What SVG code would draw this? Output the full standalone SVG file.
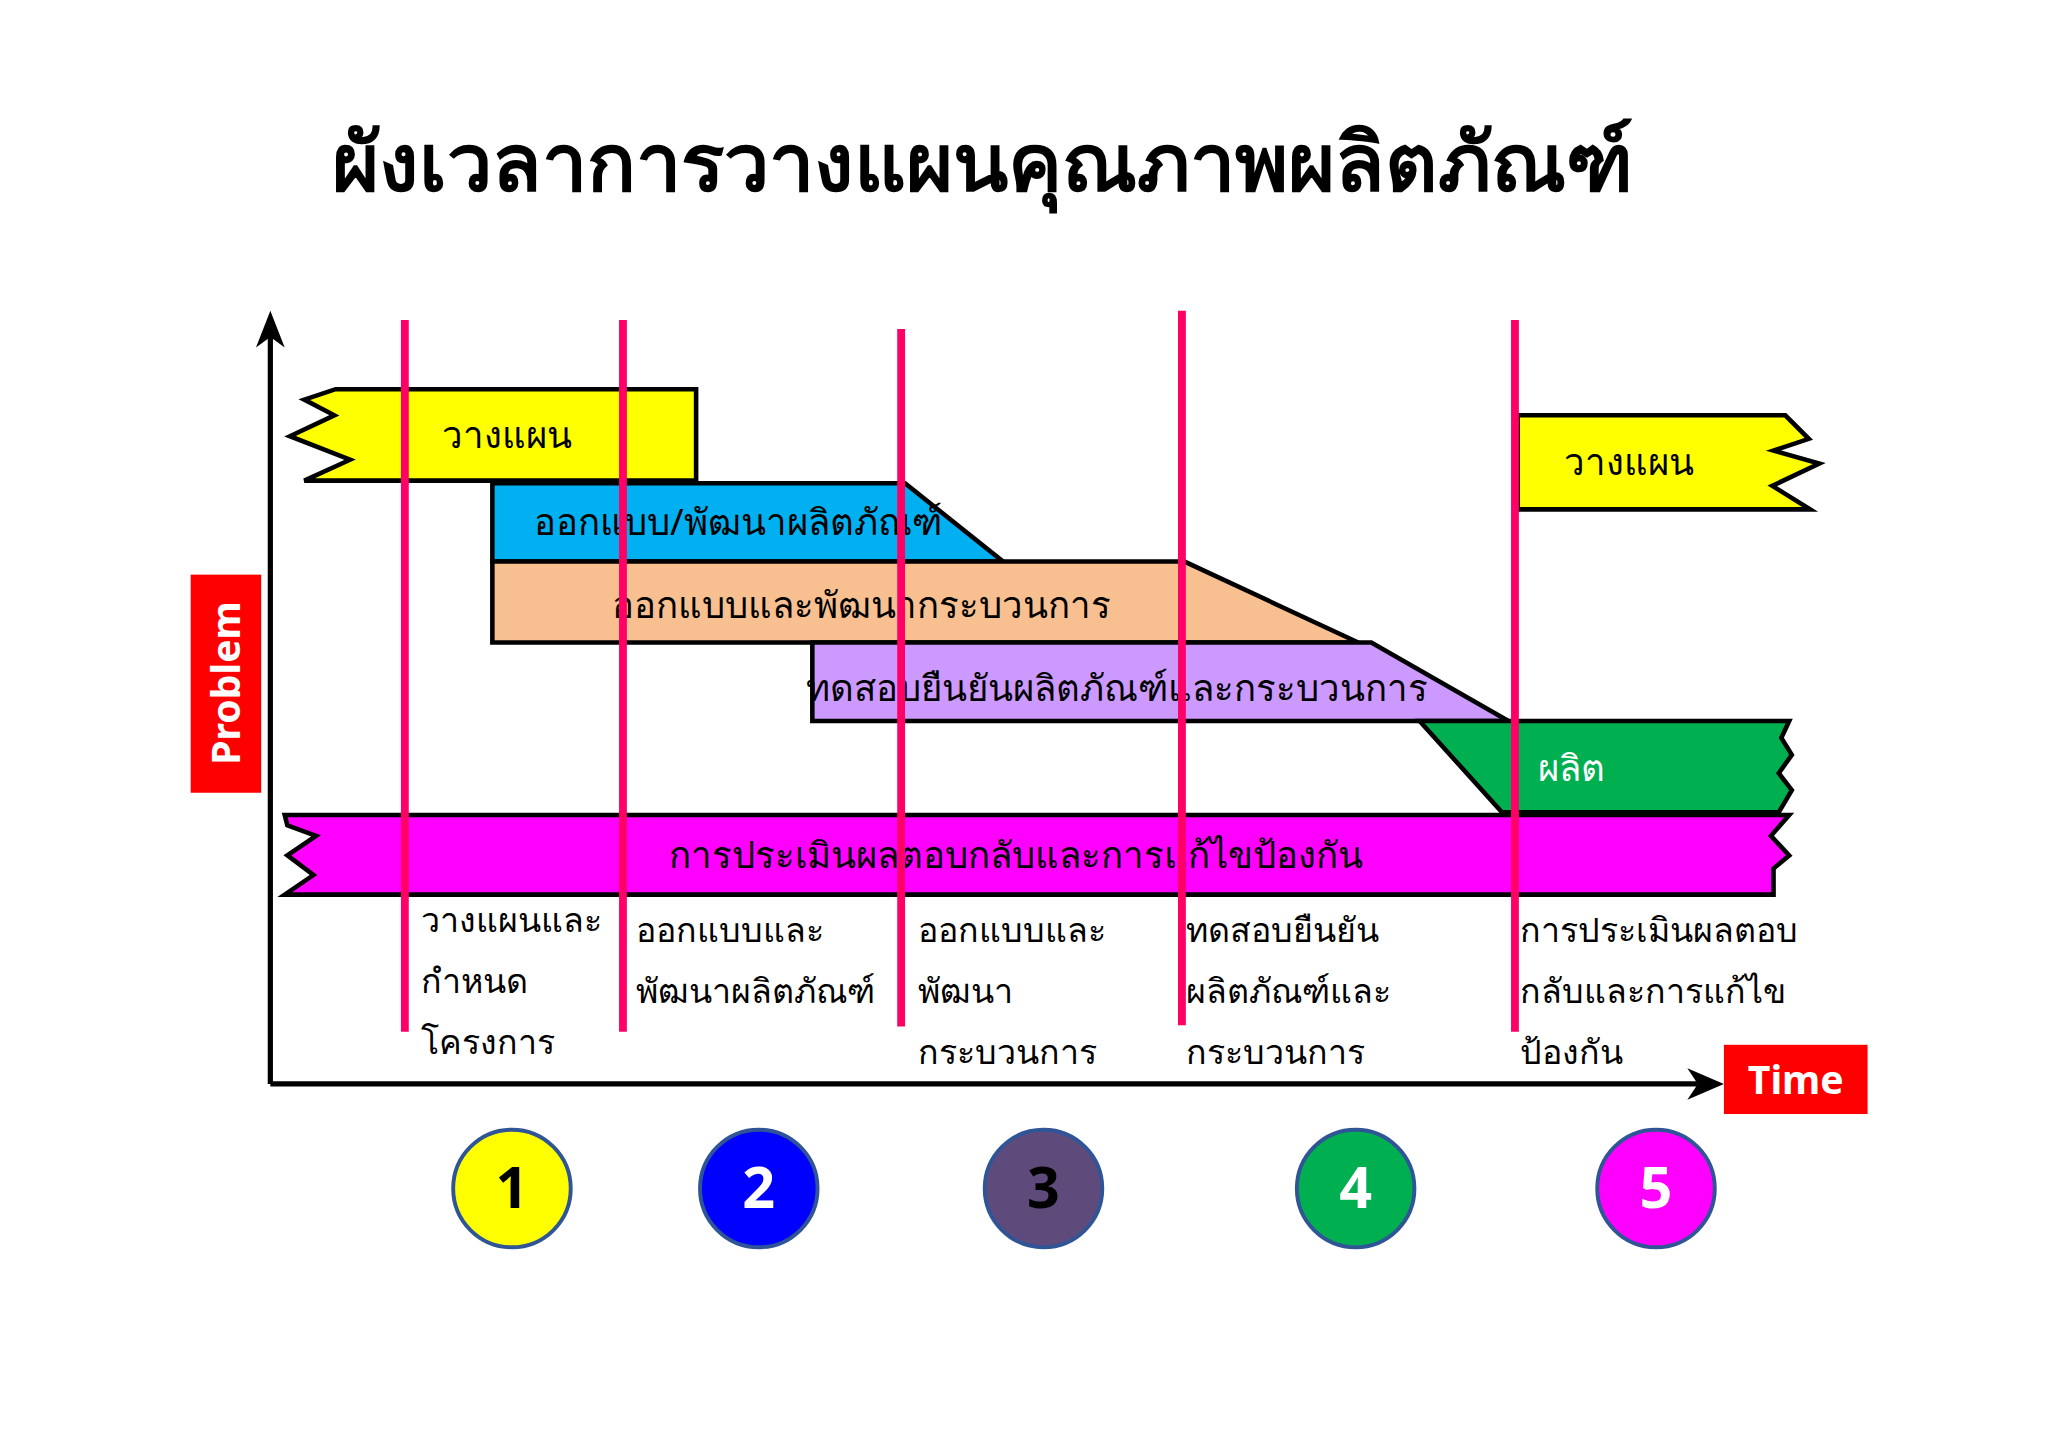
<svg xmlns="http://www.w3.org/2000/svg" width="2048" height="1448" viewBox="0 0 2048 1448">
<style>
.t{font-family:"Noto Sans","DejaVu Sans","Liberation Sans",sans-serif;fill:#000}
.bar{stroke:#000;stroke-width:3.5;stroke-linejoin:miter}
.rl{stroke:#ff0066;stroke-width:6}
.c{stroke:#2f5597;stroke-width:3}
.n{font-family:"Open Sans","Liberation Sans",sans-serif;font-weight:bold;font-size:44px;text-anchor:middle}
.lb{font-size:26px}
</style>
<rect width="2048" height="1448" fill="#fff"/>
<g transform="scale(1.306)">
<text id="title" class="t" x="752" y="146" font-size="62" font-weight="bold" text-anchor="middle">ผังเวลาการวางแผนคุณภาพผลิตภัณฑ์</text>
<g id="axes">
<path d="M207,830 L207,244" stroke="#000" stroke-width="4" fill="none"/>
<path d="M207,238 L196,266 L207,258 L218,266 z" fill="#000"/>
<path d="M207,830 L1300,830" stroke="#000" stroke-width="4" fill="none"/>
<path d="M1320,830 L1292,818 L1300,830 L1292,842 z" fill="#000"/>
</g>
<g id="problem"><rect x="146" y="440" width="54" height="167" fill="#ff0000"/><text class="t" transform="translate(184,523) rotate(-90)" font-size="30" font-weight="bold" style="fill:#fff" text-anchor="middle">Problem</text></g>
<g id="time"><rect x="1320" y="800" width="110" height="53" fill="#ff0000"/><text class="t" x="1375" y="838" font-size="30" font-weight="bold" style="fill:#fff" text-anchor="middle">Time</text></g>
<g id="plan1"><polygon class="bar" fill="#ffff00" points="257,298 533,298 533,368 233,368 268,352 222,334 256,318 233,306"/><text class="t" x="388" y="343" font-size="28" text-anchor="middle">วางแผน</text></g>
<g id="design"><polygon class="bar" fill="#00b0f0" points="377,370 693,370 768,430 377,430"/><text class="t" x="565" y="410" font-size="28" text-anchor="middle">ออกแบบ/พัฒนาผลิตภัณฑ์</text></g>
<g id="process"><polygon class="bar" fill="#f8c090" points="377,430 907,430 1040,492 377,492"/><text class="t" x="660" y="473" font-size="28" text-anchor="middle">ออกแบบและพัฒนากระบวนการ</text></g>
<g id="validate"><polygon class="bar" fill="#cc99ff" points="622,492 1050,492 1155,552 622,552"/><text class="t" x="855" y="537" font-size="28" text-anchor="middle">ทดสอบยืนยันผลิตภัณฑ์และกระบวนการ</text></g>
<g id="produce"><polygon class="bar" fill="#00b050" points="1087,552 1370,552 1364,565 1372,578 1362,592 1372,605 1362,622 1150,622"/><text class="t" x="1203" y="598" font-size="28" style="fill:#fff" text-anchor="middle">ผลิต</text></g>
<g id="feedback"><polygon class="bar" fill="#ff00ff" points="218,624 1370,624 1356,640 1370,655 1358,665 1358,685 218,685 240,670 220,655 242,640 220,632"/><text class="t" x="778" y="665" font-size="28" text-anchor="middle">การประเมินผลตอบกลับและการแก้ไขป้องกัน</text></g>
<g id="plan2"><polygon class="bar" fill="#ffff00" points="1162,318 1367,318 1385,336 1358,345 1393,355 1357,372 1386,390 1162,390"/><text class="t" x="1247" y="364" font-size="28" text-anchor="middle">วางแผน</text></g>
<g id="connectors">
<line class="rl" x1="310" y1="245" x2="310" y2="790"/>
<line class="rl" x1="477" y1="245" x2="477" y2="790"/>
<line class="rl" x1="690" y1="252" x2="690" y2="786"/>
<line class="rl" x1="905" y1="238" x2="905" y2="785"/>
<line class="rl" x1="1160" y1="245" x2="1160" y2="790"/>
</g>
<g id="labels">
<text class="t lb" x="322" y="714">วางแผนและ</text><text class="t lb" x="322" y="760">กำหนด</text><text class="t lb" x="322" y="807">โครงการ</text>
<text class="t lb" x="487" y="721">ออกแบบและ</text><text class="t lb" x="487" y="768">พัฒนาผลิตภัณฑ์</text>
<text class="t lb" x="703" y="721">ออกแบบและ</text><text class="t lb" x="703" y="768">พัฒนา</text><text class="t lb" x="703" y="815">กระบวนการ</text>
<text class="t lb" x="908" y="721">ทดสอบยืนยัน</text><text class="t lb" x="908" y="768">ผลิตภัณฑ์และ</text><text class="t lb" x="908" y="815">กระบวนการ</text>
<text class="t lb" x="1164" y="721">การประเมินผลตอบ</text><text class="t lb" x="1164" y="768">กลับและการแก้ไข</text><text class="t lb" x="1164" y="815">ป้องกัน</text>
</g>
<g id="c1"><circle class="c" cx="392" cy="910" r="45" fill="#ffff00"/><text class="n" x="392" y="925" fill="#000">1</text></g>
<g id="c2"><circle class="c" cx="581" cy="910" r="45" fill="#0000ff"/><text class="n" x="581" y="925" fill="#fff">2</text></g>
<g id="c3"><circle class="c" cx="799" cy="910" r="45" fill="#5f4b7b"/><text class="n" x="799" y="925" fill="#000">3</text></g>
<g id="c4"><circle class="c" cx="1038" cy="910" r="45" fill="#00b050"/><text class="n" x="1038" y="925" fill="#fff">4</text></g>
<g id="c5"><circle class="c" cx="1268" cy="910" r="45" fill="#ff00ff"/><text class="n" x="1268" y="925" fill="#fff">5</text></g>
</g>
</svg>
